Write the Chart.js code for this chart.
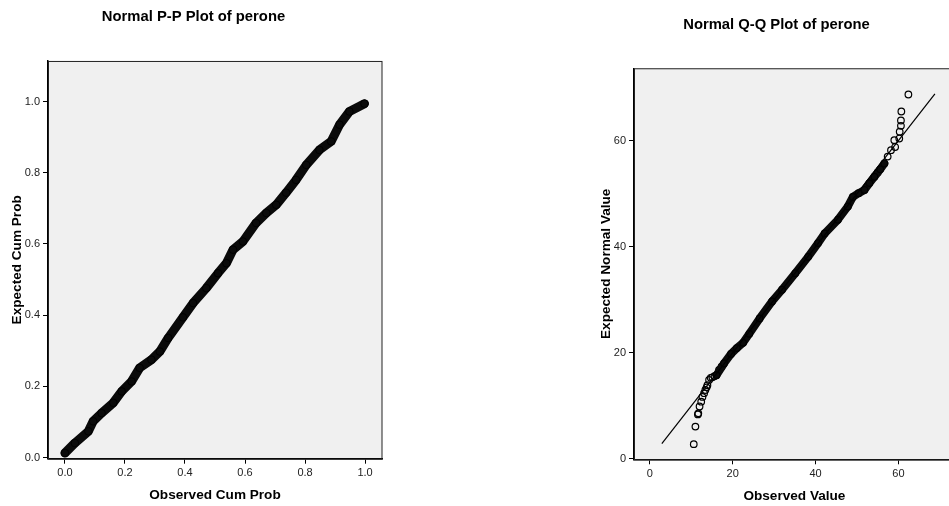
<!DOCTYPE html>
<html>
<head>
<meta charset="utf-8">
<script src="https://cdn.jsdelivr.net/npm/chart.js@4"></script>
<style>
  html, body { margin: 0; padding: 0; background: #fff; overflow: hidden; width: 949px; height: 506px; }
  canvas { position: absolute; top: 0; }
  #pp { left: 0; }
  #qq { left: 595px; }
</style>
</head>
<body>
<canvas id="pp" width="387" height="506"></canvas>
<canvas id="qq" width="365" height="506"></canvas>
<script>
// P-P plot: observed cum prob vs expected cum prob
const ppObserved = [0.0, 0.033, 0.078, 0.094, 0.122, 0.161, 0.189, 0.222, 0.249, 0.288, 0.316, 0.344, 0.393,
  0.427, 0.471, 0.510, 0.538, 0.560, 0.593, 0.637, 0.671, 0.704, 0.737, 0.770, 0.804, 0.848, 0.887,
  0.915, 0.948, 0.998];
const ppExpected = [0.013, 0.041, 0.074, 0.102, 0.125, 0.154, 0.186, 0.214, 0.252, 0.275, 0.298, 0.336, 0.394,
  0.434, 0.476, 0.518, 0.546, 0.584, 0.607, 0.659, 0.687, 0.710, 0.744, 0.780, 0.822, 0.864, 0.888,
  0.935, 0.972, 0.994];
const ppTicks = [0, 0.2, 0.4, 0.6, 0.8, 1.0];

// Q-Q plot: dense middle of the sample
const qqBodyObserved = [16.1, 17.9, 19.6, 21.0, 22.5, 24.0, 26.5, 29.5, 31.9, 35.1, 38.2, 40.6, 42.2, 45.4, 47.8, 49.0,
  50.4, 51.8, 53.0, 54.2, 55.6, 56.6];
const qqBodyExpected = [15.8, 18.0, 19.8, 20.9, 21.9, 23.6, 26.5, 29.7, 31.9, 35.0, 38.1, 40.7, 42.5, 45.1, 47.6, 49.4,
  50.1, 50.7, 52.0, 53.2, 54.6, 55.7];
// Q-Q plot: tails, drawn as separate circles
const qqTailObserved = [10.6, 11.0, 11.6, 11.7, 12.0, 12.4, 12.7, 13.1, 13.4, 13.7, 13.9, 14.3, 14.7, 15.1, 15.6, 16.7, 17.3,
  55.0, 57.4, 58.2, 59.2, 59.0, 60.2, 60.3, 60.6, 60.6, 60.7, 62.4];
const qqTailExpected = [2.8, 6.1, 8.4, 8.6, 9.9, 10.8, 11.7, 12.4, 13.0, 13.5, 13.9, 14.9, 15.3, 15.4, 15.6, 16.8, 17.4,
  54.0, 57.0, 58.2, 58.8, 60.1, 60.4, 61.7, 62.8, 63.8, 65.5, 68.7];
const qqLine = [2.9, 68.8];
const qqTicks = [0, 20, 40, 60];

const FONT = "'Liberation Sans', Arial, sans-serif";

const toPoints = (xs, ys) => xs.map((x, i) => ({ x, y: ys[i] }));

const frame = {
  id: 'frame',
  beforeDraw(chart) {
    const { ctx, chartArea: a } = chart;
    ctx.save();
    ctx.fillStyle = '#f0f0f0';
    ctx.fillRect(a.left, a.top, a.right - a.left, a.bottom - a.top);
    ctx.restore();
  },
  afterDraw(chart) {
    const { ctx, chartArea: a } = chart;
    ctx.save();
    ctx.strokeStyle = '#222';
    ctx.lineWidth = 1;
    ctx.strokeRect(a.left + 0.5, a.top + 0.5, a.right - a.left - 0.5, a.bottom - a.top);
    ctx.restore();
  },
};

const axis = (o) => ({
  type: 'linear',
  min: o.min,
  max: o.max,
  afterBuildTicks: (s) => { s.ticks = o.ticks.map(v => ({ value: v })); },
  afterFit: o.fit,
  border: { display: true, color: '#000', width: 1.5 },
  grid: { display: true, drawOnChartArea: false, drawTicks: true, tickLength: 5, color: '#000' },
  ticks: {
    autoSkip: false, maxRotation: 0, padding: 3, color: '#222',
    font: { family: FONT, size: 11 },
    callback: o.fmt,
  },
  title: {
    display: true, text: o.title, color: '#000',
    font: { family: FONT, size: 13.6, weight: 'bold' },
    padding: o.titlePad,
  },
});

const baseOptions = (title, titlePad, layoutPad, scales) => ({
  responsive: false,
  animation: false,
  layout: { padding: layoutPad },
  plugins: {
    legend: { display: false },
    tooltip: { enabled: false },
    title: {
      display: true, text: title, color: '#000',
      font: { family: FONT, size: 14.8, weight: 'bold' },
      padding: titlePad,
    },
  },
  scales,
});

new Chart(document.getElementById('pp').getContext('2d'), {
  type: 'scatter',
  data: {
    datasets: [{
      data: toPoints(ppObserved, ppExpected),
      showLine: true,
      borderColor: '#0a0a0a',
      borderWidth: 9,
      borderCapStyle: 'round',
      borderJoinStyle: 'round',
      pointRadius: 3.8,
      pointBorderWidth: 1,
      pointBorderColor: '#000',
      pointBackgroundColor: 'rgba(0,0,0,0)',
    }],
  },
  options: baseOptions('Normal P-P Plot of perone', { top: 7.8, bottom: 35.4 }, { left: 2, right: 2 }, {
    x: axis({ min: -0.0565, max: 1.0565, ticks: ppTicks, fmt: v => v.toFixed(1),
      title: 'Observed Cum Prob', titlePad: { top: 2, bottom: 3 },
      fit: (s) => { s.height = 47.3; } }),
    y: axis({ min: -0.003, max: 1.114, ticks: ppTicks, fmt: v => v.toFixed(1),
      title: 'Expected Cum Prob', titlePad: { top: 7.5, bottom: 2 },
      fit: (s) => { s.width = 46; } }),
  }),
  plugins: [frame],
});

new Chart(document.getElementById('qq').getContext('2d'), {
  type: 'scatter',
  data: {
    datasets: [
      {
        data: toPoints(qqLine, qqLine),
        showLine: true,
        borderColor: '#000',
        borderWidth: 1.2,
        pointRadius: 0,
      },
      {
        data: toPoints(qqBodyObserved, qqBodyExpected),
        showLine: true,
        borderColor: '#0a0a0a',
        borderWidth: 8,
        borderCapStyle: 'round',
        borderJoinStyle: 'round',
        pointRadius: 3.3,
        pointBorderWidth: 1.2,
        pointBorderColor: '#000',
        pointBackgroundColor: 'rgba(0,0,0,0)',
      },
      {
        data: toPoints(qqTailObserved, qqTailExpected),
        showLine: false,
        pointRadius: 3.3,
        pointBorderWidth: 1.2,
        pointBorderColor: '#000',
        pointBackgroundColor: 'rgba(0,0,0,0)',
      },
    ],
  },
  options: baseOptions('Normal Q-Q Plot of perone', { top: 16.1, bottom: 34.4 }, { right: 2 }, {
    x: axis({ min: -3.82, max: 73.6, ticks: qqTicks, fmt: v => String(v),
      title: 'Observed Value', titlePad: { top: 2, bottom: 1.2 },
      fit: (s) => { s.height = 46.7; } }),
    y: axis({ min: -0.06, max: 73.65, ticks: qqTicks, fmt: v => String(v),
      title: 'Expected Normal Value', titlePad: { top: 3.5, bottom: 2 },
      fit: (s) => { s.width = 39; } }),
  }),
  plugins: [frame],
});
</script>
</body>
</html>
